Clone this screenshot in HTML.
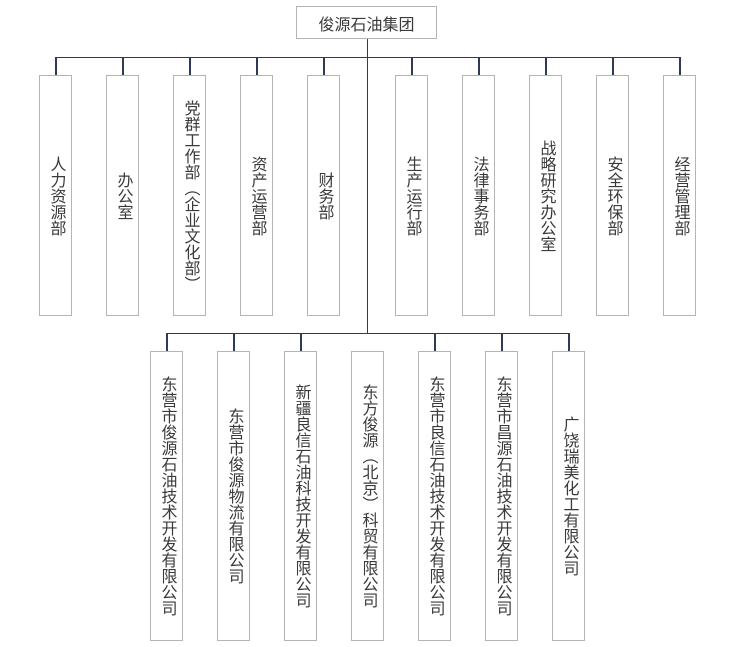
<!DOCTYPE html>
<html><head><meta charset="utf-8"><style>
body{margin:0;background:#fff;width:746px;height:647px;position:relative;overflow:hidden;font-family:"Liberation Sans","WenQuanYi Zen Hei",sans-serif;color:#3a3a3a}
.l{position:absolute;background:#2e3b55}
.b{position:absolute;box-sizing:border-box;border:1.5px solid #b4b4b4;background:#fff;display:flex;align-items:center;justify-content:center}
.v{writing-mode:vertical-rl;font-size:16px;line-height:16px;letter-spacing:0px}
</style></head><body>
<div class="b" style="left:296px;top:6px;width:141px;height:33px;font-size:16px">俊源石油集团</div>
<div class="l" style="left:366.5px;top:39px;width:1.5px;height:295px"></div>
<div class="l" style="left:55px;top:56.5px;width:625.5px;height:1.5px"></div>
<div class="l" style="left:166px;top:332.5px;width:403.5px;height:1.5px"></div>

<div class="l" style="left:55px;top:57px;width:1.5px;height:18px"></div>
<div class="l" style="left:122px;top:57px;width:1.5px;height:18px"></div>
<div class="l" style="left:189px;top:57px;width:1.5px;height:18px"></div>
<div class="l" style="left:256px;top:57px;width:1.5px;height:18px"></div>
<div class="l" style="left:323px;top:57px;width:1.5px;height:18px"></div>
<div class="l" style="left:411px;top:57px;width:1.5px;height:18px"></div>
<div class="l" style="left:478px;top:57px;width:1.5px;height:18px"></div>
<div class="l" style="left:545px;top:57px;width:1.5px;height:18px"></div>
<div class="l" style="left:612px;top:57px;width:1.5px;height:18px"></div>
<div class="l" style="left:679px;top:57px;width:1.5px;height:18px"></div>

<div class="b" style="left:39px;top:75px;width:33px;height:241px"><span class="v">人力资源部</span></div>
<div class="b" style="left:106px;top:75px;width:33px;height:241px"><span class="v">办公室</span></div>
<div class="b" style="left:173px;top:75px;width:33px;height:241px"><span class="v">党群工作部（企业文化部）</span></div>
<div class="b" style="left:240px;top:75px;width:33px;height:241px"><span class="v">资产运营部</span></div>
<div class="b" style="left:307px;top:75px;width:33px;height:241px"><span class="v">财务部</span></div>
<div class="b" style="left:395px;top:75px;width:33px;height:241px"><span class="v">生产运行部</span></div>
<div class="b" style="left:462px;top:75px;width:33px;height:241px"><span class="v">法律事务部</span></div>
<div class="b" style="left:529px;top:75px;width:33px;height:241px"><span class="v">战略研究办公室</span></div>
<div class="b" style="left:596px;top:75px;width:33px;height:241px"><span class="v">安全环保部</span></div>
<div class="b" style="left:663px;top:75px;width:33px;height:241px"><span class="v">经营管理部</span></div>

<div class="l" style="left:166px;top:333px;width:1.5px;height:18px"></div>
<div class="l" style="left:233px;top:333px;width:1.5px;height:18px"></div>
<div class="l" style="left:300px;top:333px;width:1.5px;height:18px"></div>
<div class="l" style="left:434px;top:333px;width:1.5px;height:18px"></div>
<div class="l" style="left:501px;top:333px;width:1.5px;height:18px"></div>
<div class="l" style="left:568px;top:333px;width:1.5px;height:18px"></div>

<div class="b" style="left:150px;top:351px;width:33px;height:290px"><span class="v">东营市俊源石油技术开发有限公司</span></div>
<div class="b" style="left:217px;top:351px;width:33px;height:290px"><span class="v">东营市俊源物流有限公司</span></div>
<div class="b" style="left:284px;top:351px;width:33px;height:290px"><span class="v">新疆良信石油科技开发有限公司</span></div>
<div class="b" style="left:351px;top:351px;width:33px;height:290px"><span class="v">东方俊源（北京）科贸有限公司</span></div>
<div class="b" style="left:418px;top:351px;width:33px;height:290px"><span class="v">东营市良信石油技术开发有限公司</span></div>
<div class="b" style="left:485px;top:351px;width:33px;height:290px"><span class="v">东营市昌源石油技术开发有限公司</span></div>
<div class="b" style="left:552px;top:351px;width:33px;height:290px"><span class="v">广饶瑞美化工有限公司</span></div>
</body></html>
